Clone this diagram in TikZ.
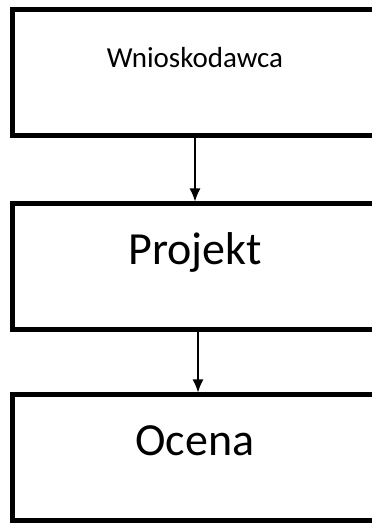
\documentclass[tikz,border=0pt]{standalone}
\usepackage{fontspec}
\setmainfont{Carlito}
\usetikzlibrary{positioning,arrows.meta}
\tikzset{
  >={Latex[length=13pt,width=11pt]},
}
\tikzstyle{box}=[draw,line width=5pt,minimum width=365pt,minimum height=126pt,inner sep=0pt,outer sep=0pt]
\tikzstyle{link}=[line width=1.4pt,->]
\tikzstyle{small}=[font=\fontsize{29}{34}\selectfont,anchor=base]
\tikzstyle{big}=[font=\fontsize{46}{54}\selectfont,anchor=base]

\begin{document}
\begin{tikzpicture}[x=1pt,y=1pt]
    \useasboundingbox (0,0) rectangle (372,523);
    \clip (0,0) rectangle (372,523);
    \node[box] (wniosek) at (195,450) {};
    \node[box,below=68pt of wniosek] (projekt) {};
    \node[box,below=65pt of projekt] (ocena) {};
    \node[small] (wniosektxt) at ([yshift=5pt]wniosek.center) {Wnioskodawca};
    \node[big] (projekttxt) at ([yshift=2pt]projekt.center) {Projekt};
    \node[big] (ocenatxt) at ([yshift=2pt]ocena.center) {Ocena};
    \draw[link,shorten >=2.5pt] (wniosek.south) -- (projekt.north);
    \draw[link,shorten >=2.5pt] ([xshift=3pt]projekt.south) -- ([xshift=3pt]ocena.north);
  \end{tikzpicture}
\end{document}
